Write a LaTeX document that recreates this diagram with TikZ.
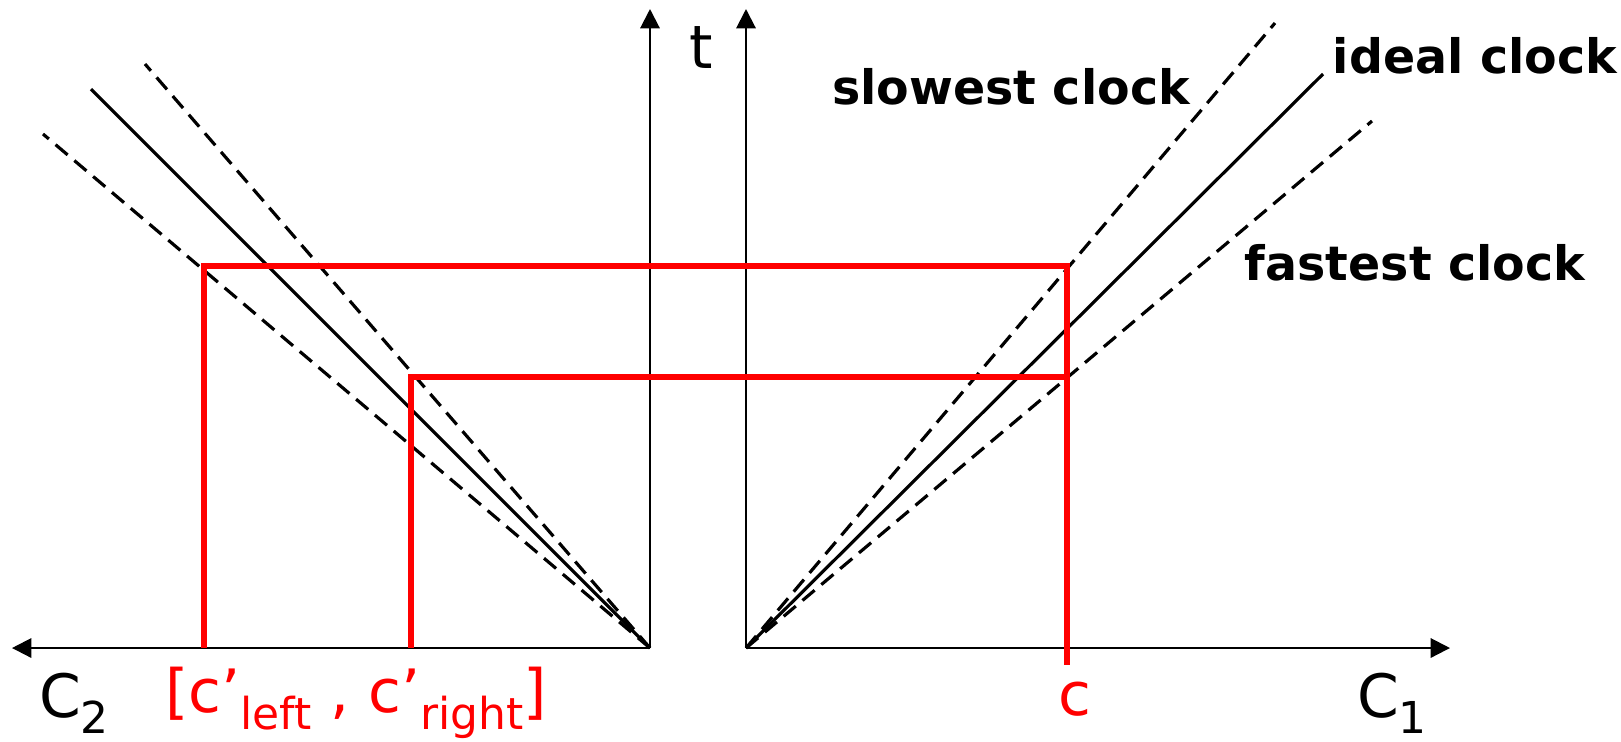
\documentclass[tikz,border=0pt]{standalone}
\usepackage{fontspec}
\setmainfont{DejaVu Sans}
\usetikzlibrary{arrows.meta}
\definecolor{boundred}{HTML}{FF0000}
\newcommand{\lowsub}[1]{\raisebox{-0.5ex}{\fontsize{12.5}{13}\selectfont #1}}

\begin{document}
\begin{tikzpicture}[
		x=0.01cm, y=-0.01cm,
		>={Triangle[length=5.5pt, width=5.5pt]},
		axis/.style={->, line width=0.6pt},
		ideal/.style={line width=0.9pt},
		bound/.style={line width=0.9pt, dash pattern=on 4.5pt off 2.5pt},
		interval/.style={boundred, line width=1.7pt},
		clocklabel/.style={font=\fontsize{13.5}{15}\selectfont\bfseries},
		axislabel/.style={font=\fontsize{17}{20}\selectfont},
	]
	\useasboundingbox (0,0) rectangle (1621,741);

	% origins and axis tips
	\coordinate (lo) at (650,648);
	\coordinate (ro) at (746,648);
	\coordinate (ltop) at (650,9);
	\coordinate (rtop) at (746,9);
	\coordinate (c2end) at (12,648);
	\coordinate (c1end) at (1450,648);

	\draw[axis] (lo) -- (ltop);
	\draw[axis] (lo) -- (c2end);
	\draw[axis] (ro) -- (rtop);
	\draw[axis] (ro) -- (c1end);

	% clock lines, right plot
	\coordinate (rslow) at (1275,23);
	\coordinate (rideal) at (1323,74);
	\coordinate (rfast) at (1372,121);
	\draw[bound] (ro) -- (rslow);
	\draw[ideal] (ro) -- (rideal);
	\draw[bound] (ro) -- (rfast);

	% clock lines, left plot
	\coordinate (lslow) at (145,64);
	\coordinate (lideal) at (91,89);
	\coordinate (lfast) at (43,134);
	\draw[bound] (lo) -- (lslow);
	\draw[ideal] (lo) -- (lideal);
	\draw[bound] (lo) -- (lfast);

	% interval construction
	\coordinate (cleft) at (204,648);
	\coordinate (cright) at (411,648);
	\coordinate (cval) at (1067,665);
	\draw[interval] (cleft) -- (cleft |- 0,266) -- (cval |- 0,266) -- (cval);
	\draw[interval] (cright) -- (cright |- 0,377) -- (cval |- 0,377);

	\node[clocklabel] (slowlbl) at (1011,87) {slowest clock};
	\node[clocklabel] (ideallbl) at (1475,56) {ideal clock};
	\node[clocklabel] (fastlbl) at (1415,263) {fastest clock};

	\node[axislabel] (tlbl) at (701,47) {t};
	\node[axislabel] (c2lbl) at (74,703) {C\lowsub{2}};
	\node[axislabel, text=boundred] (rangelbl) at (356,703) {[c’\lowsub{left} , c’\lowsub{right}]};
	\node[axislabel, text=boundred] (clbl) at (1075,699) {c};
	\node[axislabel] (c1lbl) at (1392,703) {C\lowsub{1}};
\end{tikzpicture}
\end{document}
